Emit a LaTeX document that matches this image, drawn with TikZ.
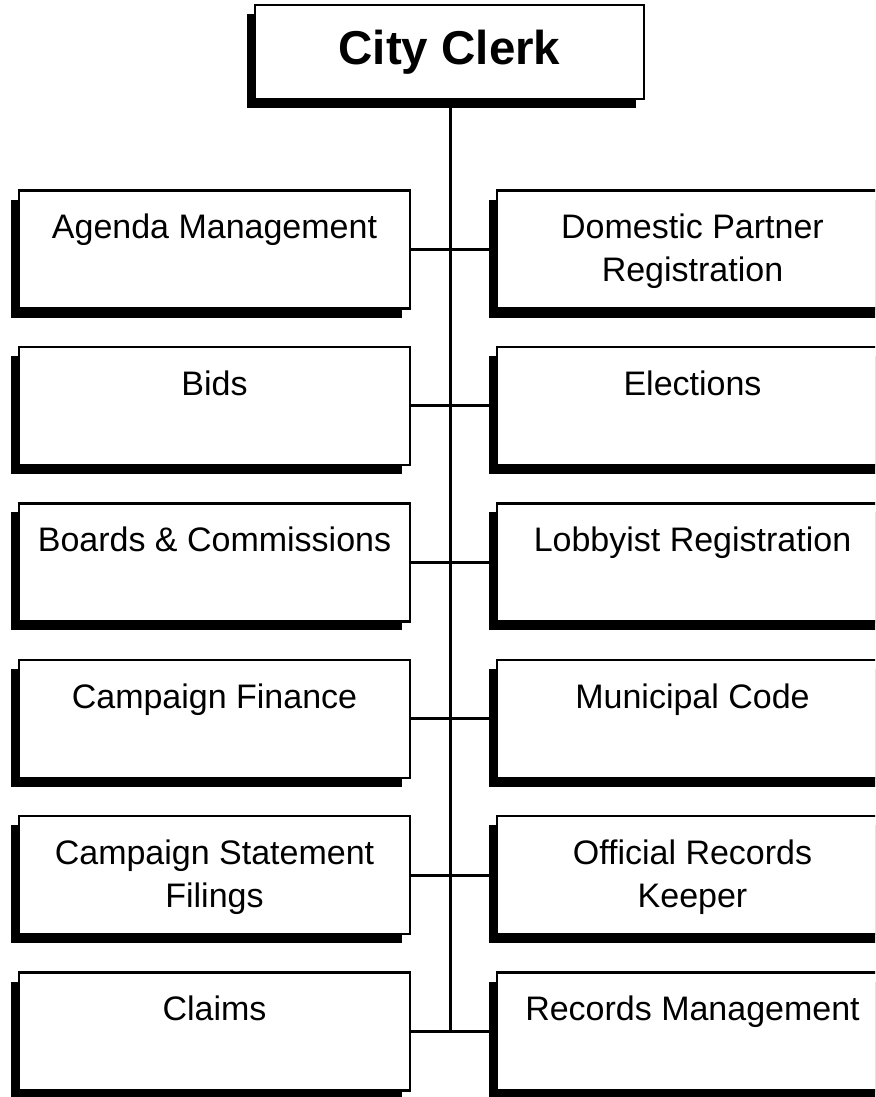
\documentclass[tikz,border=0pt]{standalone}
\usepackage{fontspec}
\setmainfont{Liberation Sans}
\usetikzlibrary{positioning,shadows}

\begin{document}
\begin{tikzpicture}[
  x=1pt, y=1pt,
  node distance=38.4pt and 87pt,
  unit/.style={rectangle, draw, line width=2.4pt, fill=white,
    minimum width=391pt, minimum height=118pt, inner sep=0pt, outer sep=0pt,
    drop shadow={shadow xshift=-8pt, shadow yshift=-9pt, opacity=1, fill=black}},
  head/.style={unit, minimum width=389pt, minimum height=94pt,
    font=\fontsize{47.5}{57}\selectfont\bfseries},
  txt/.style={anchor=north, align=center, inner sep=0pt,
    font=\fontsize{34}{43}\selectfont},
  link/.style={line width=3pt},
]
  \clip (0,0) rectangle (875,-1097);

  \node[head] (clerk) at (449.5,-52) {City Clerk};

  % left column
  \node[unit] (agenda) at (214.5,-249.5) {};
  \node[unit, below=of agenda] (bids) {};
  \node[unit, below=of bids] (boards) {};
  \node[unit, below=of boards] (finance) {};
  \node[unit, below=of finance] (filings) {};
  \node[unit, below=of filings] (claims) {};

  % right column
  \node[unit, right=of agenda] (partner) {};
  \node[unit, right=of bids] (elections) {};
  \node[unit, right=of boards] (lobbyist) {};
  \node[unit, right=of finance] (code) {};
  \node[unit, right=of filings] (keeper) {};
  \node[unit, right=of claims] (records) {};

  % labels sit near the top of each box
  \node[txt] (agendaT) at ([yshift=-23.5pt]agenda.north) {Agenda Management};
  \node[txt] (bidsT) at ([yshift=-23.5pt]bids.north) {Bids};
  \node[txt] (boardsT) at ([yshift=-23.5pt]boards.north) {Boards \& Commissions};
  \node[txt] (financeT) at ([yshift=-23.5pt]finance.north) {Campaign Finance};
  \node[txt] (filingsT) at ([yshift=-23.5pt]filings.north) {Campaign Statement\\Filings};
  \node[txt] (claimsT) at ([yshift=-23.5pt]claims.north) {Claims};
  \node[txt] (partnerT) at ([yshift=-23.5pt]partner.north) {Domestic Partner\\Registration};
  \node[txt] (electionsT) at ([yshift=-23.5pt]elections.north) {Elections};
  \node[txt] (lobbyistT) at ([yshift=-23.5pt]lobbyist.north) {Lobbyist Registration};
  \node[txt] (codeT) at ([yshift=-23.5pt]code.north) {Municipal Code};
  \node[txt] (keeperT) at ([yshift=-23.5pt]keeper.north) {Official Records\\Keeper};
  \node[txt] (recordsT) at ([yshift=-23.5pt]records.north) {Records Management};

  % trunk and branches
  \draw[link] ([xshift=0.5pt]clerk.south) -- ([xshift=0.5pt]clerk.south |- claims.east);
  \draw[link] (agenda.east) -- (partner.west);
  \draw[link] (bids.east) -- (elections.west);
  \draw[link] (boards.east) -- (lobbyist.west);
  \draw[link] (finance.east) -- (code.west);
  \draw[link] (filings.east) -- (keeper.west);
  \draw[link] (claims.east) -- (records.west);
\end{tikzpicture}
\end{document}
